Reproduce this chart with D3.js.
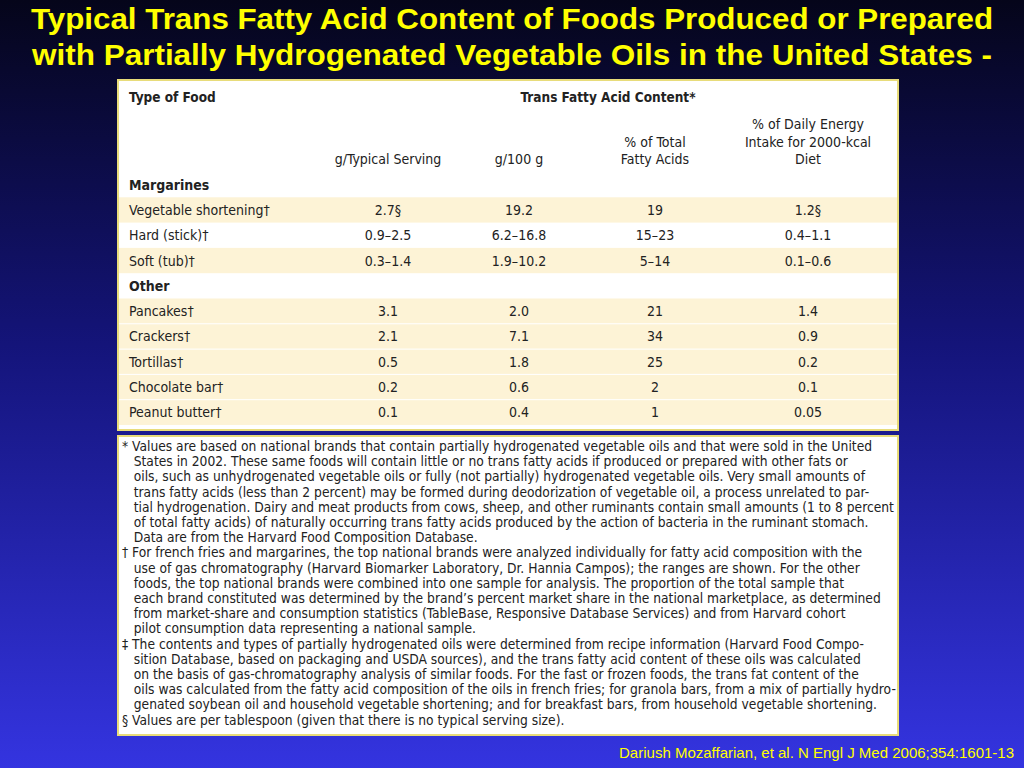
<!DOCTYPE html>
<html><head><meta charset="utf-8">
<script src="https://cdn.jsdelivr.net/npm/d3@7/dist/d3.min.js"></script>
<style>body{margin:0;overflow:hidden}</style>
</head><body>
<script>
// table data
var columns = ['g/Typical Serving', 'g/100 g', '% of Total\nFatty Acids', '% of Daily Energy\nIntake for 2000-kcal\nDiet'];
var rows = [
  {food: 'Margarines', group: true},
  {food: 'Vegetable shortening\u2020', vals: ['2.7\u00a7', '19.2', '19', '1.2\u00a7']},
  {food: 'Hard (stick)\u2020', vals: ['0.9\u20132.5', '6.2\u201316.8', '15\u201323', '0.4\u20131.1']},
  {food: 'Soft (tub)\u2020', vals: ['0.3\u20131.4', '1.9\u201310.2', '5\u201314', '0.1\u20130.6']},
  {food: 'Other', group: true},
  {food: 'Pancakes\u2020', vals: ['3.1', '2.0', '21', '1.4']},
  {food: 'Crackers\u2020', vals: ['2.1', '7.1', '34', '0.9']},
  {food: 'Tortillas\u2020', vals: ['0.5', '1.8', '25', '0.2']},
  {food: 'Chocolate bar\u2020', vals: ['0.2', '0.6', '2', '0.1']},
  {food: 'Peanut butter\u2020', vals: ['0.1', '0.4', '1', '0.05']}
];
var shaded = [1, 3, 5, 6, 7, 8, 9];
var notes = [
  '* Values are based on national brands that contain partially hydrogenated vegetable oils and that were sold in the United',
  '   States in 2002. These same foods will contain little or no trans fatty acids if produced or prepared with other fats or',
  '   oils, such as unhydrogenated vegetable oils or fully (not partially) hydrogenated vegetable oils. Very small amounts of',
  '   trans fatty acids (less than 2 percent) may be formed during deodorization of vegetable oil, a process unrelated to par-',
  '   tial hydrogenation. Dairy and meat products from cows, sheep, and other ruminants contain small amounts (1 to 8 percent',
  '   of total fatty acids) of naturally occurring trans fatty acids produced by the action of bacteria in the ruminant stomach.',
  '   Data are from the Harvard Food Composition Database.',
  '\u2020 For french fries and margarines, the top national brands were analyzed individually for fatty acid composition with the',
  '   use of gas chromatography (Harvard Biomarker Laboratory, Dr. Hannia Campos); the ranges are shown. For the other',
  '   foods, the top national brands were combined into one sample for analysis. The proportion of the total sample that',
  '   each brand constituted was determined by the brand\u2019s percent market share in the national marketplace, as determined',
  '   from market-share and consumption statistics (TableBase, Responsive Database Services) and from Harvard cohort',
  '   pilot consumption data representing a national sample.',
  '\u2021 The contents and types of partially hydrogenated oils were determined from recipe information (Harvard Food Compo-',
  '   sition Database, based on packaging and USDA sources), and the trans fatty acid content of these oils was calculated',
  '   on the basis of gas-chromatography analysis of similar foods. For the fast or frozen foods, the trans fat content of the',
  '   oils was calculated from the fatty acid composition of the oils in french fries; for granola bars, from a mix of partially hydro-',
  '   genated soybean oil and household vegetable shortening; and for breakfast bars, from household vegetable shortening.',
  '\u00a7 Values are per tablespoon (given that there is no typical serving size).'
];

var W = 1024, H = 768;
var svg = d3.select('body').append('svg').attr('width', W).attr('height', H);
var grad = svg.append('defs').append('linearGradient').attr('id', 'bg')
  .attr('x1', 0).attr('y1', 0).attr('x2', 0).attr('y2', 1);
grad.append('stop').attr('offset', '0%').attr('stop-color', '#05051a');
grad.append('stop').attr('offset', '45%').attr('stop-color', '#14147a');
grad.append('stop').attr('offset', '100%').attr('stop-color', '#3434e0');
svg.append('rect').attr('width', W).attr('height', H).attr('fill', 'url(#bg)');

// title (third line sits behind the table, as in the slide)
var titleLines = [
  {t: 'Typical Trans Fatty Acid Content of Foods Produced or Prepared', w: 962},
  {t: 'with Partially Hydrogenated Vegetable Oils in the United States -', w: 960},
  {t: '2002', w: 70}
];
titleLines.forEach(function (d, i) {
  svg.append('text').attr('text-anchor', 'middle').attr('x', W / 2).attr('y', 29 + i * 36)
    .attr('font-family', 'Liberation Sans, Arial, sans-serif')
    .attr('font-weight', 'bold').attr('font-size', 30).attr('fill', '#ffff00')
    .attr('textLength', d.w).attr('lengthAdjust', 'spacingAndGlyphs').text(d.t);
});

// table box
var tx = 118, tw = 780, ty = 80, th = 350;
svg.append('rect').attr('x', tx).attr('y', ty).attr('width', tw).attr('height', th)
  .attr('fill', '#fff').attr('stroke', '#e8dc7a').attr('stroke-width', 2);
var font = 'DejaVu Sans Condensed, sans-serif';
var y = d3.scaleBand().domain(d3.range(rows.length)).range([172, 425]);
var colX = [388, 519, 655, 808];

var g = svg.append('g').attr('font-family', font).attr('fill', '#222');
g.selectAll('rect.row').data(shaded).join('rect')
  .attr('x', tx + 1).attr('width', tw - 2)
  .attr('y', function (d) { return y(d); }).attr('height', y.bandwidth())
  .attr('fill', '#fdf3d6');
g.selectAll('line.sep').data(shaded.filter(function (d) { return d > 5; })).join('line')
  .attr('x1', tx + 1).attr('x2', tx + tw - 1)
  .attr('y1', function (d) { return y(d); }).attr('y2', function (d) { return y(d); })
  .attr('stroke', '#fff').attr('stroke-width', 1);

g.append('text').attr('x', 129).attr('y', 102).attr('font-size', 13.5).attr('font-weight', 'bold').text('Type of Food');
g.append('text').attr('x', 608).attr('y', 102).attr('font-size', 13.5).attr('font-weight', 'bold')
  .attr('text-anchor', 'middle').text('Trans Fatty Acid Content*');
columns.forEach(function (c, i) {
  var parts = c.split('\n');
  var t = g.append('text').attr('text-anchor', 'middle').attr('font-size', 14);
  parts.forEach(function (p, j) {
    t.append('tspan').attr('x', colX[i]).attr('y', 164 - (parts.length - 1 - j) * 17.5).text(p);
  });
});

rows.forEach(function (r, i) {
  var cy = y(i) + y.bandwidth() / 2 + 5;
  g.append('text').attr('x', 129).attr('y', cy).attr('font-size', 14)
    .attr('font-weight', r.group ? 'bold' : 'normal').text(r.food);
  if (r.vals) r.vals.forEach(function (v, j) {
    g.append('text').attr('x', colX[j]).attr('y', cy).attr('text-anchor', 'middle')
      .attr('font-size', 14).text(v);
  });
});

// footnotes box
svg.append('rect').attr('x', tx).attr('y', 436).attr('width', tw).attr('height', 299)
  .attr('fill', '#fff').attr('stroke', '#e8dc7a').attr('stroke-width', 2);
var n = svg.append('text').attr('font-family', font).attr('font-size', 13.7).attr('fill', '#222')
  .attr('xml:space', 'preserve');
notes.forEach(function (t, i) {
  n.append('tspan').attr('x', 122).attr('y', 451 + i * 15.2).text(t);
});

svg.append('text').attr('x', 1014).attr('y', 758).attr('text-anchor', 'end')
  .attr('font-family', 'Liberation Sans, Arial, sans-serif').attr('font-size', 15)
  .attr('fill', '#ffff00').text('Dariush Mozaffarian, et al. N Engl J Med 2006;354:1601-13');
</script>
</body></html>
